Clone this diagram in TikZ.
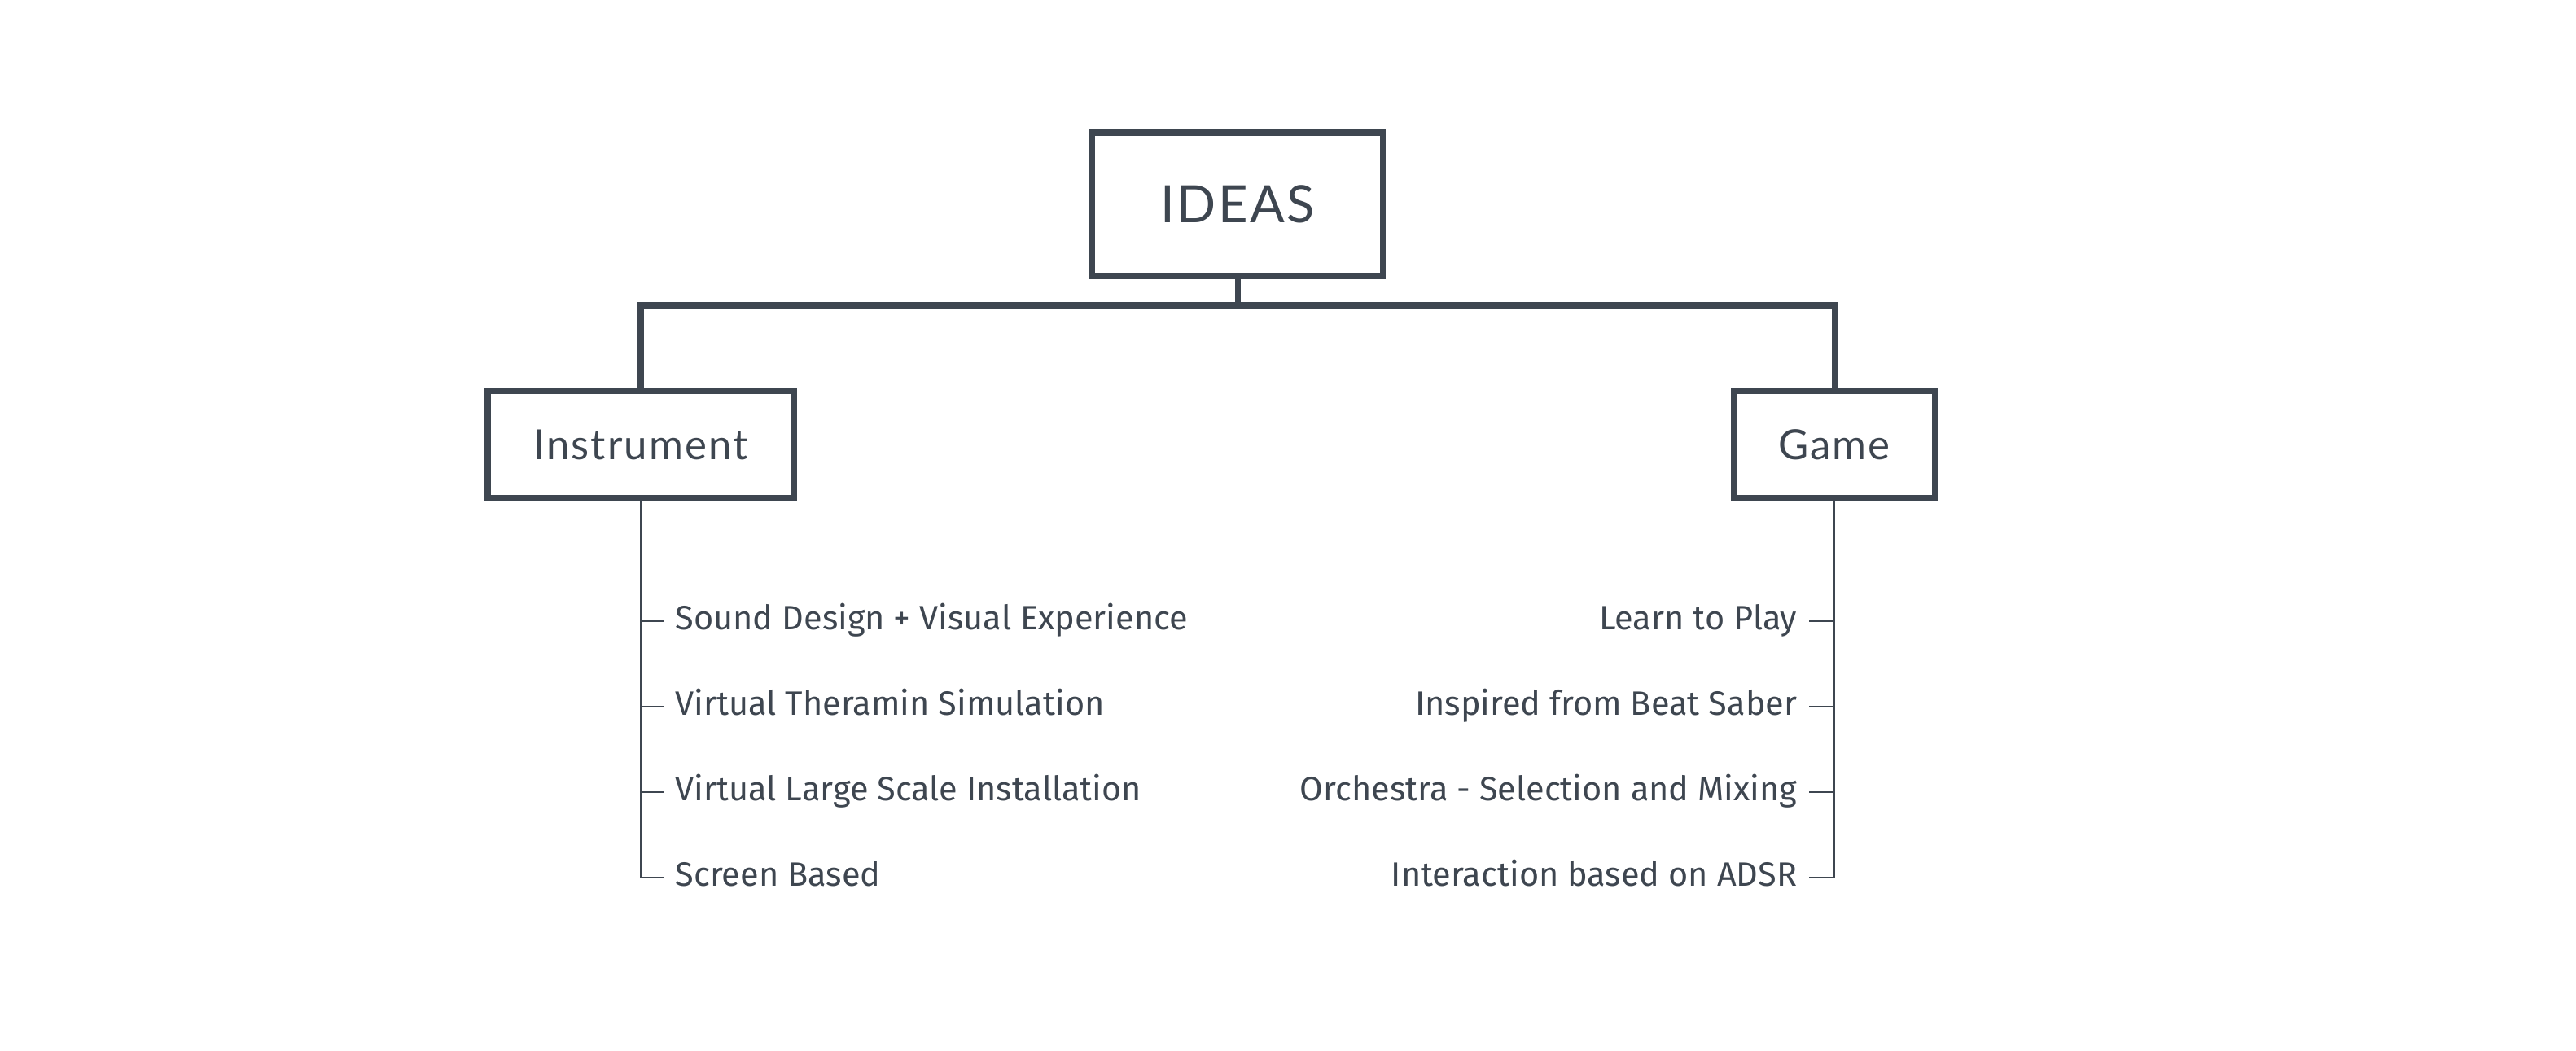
\documentclass[tikz,border=0pt]{standalone}
\usepackage{fontspec}
\setmainfont{Fira Sans}
\newfontfamily\boxfont[LetterSpace=4]{Lato}
\usepackage{xcolor}
\usetikzlibrary{positioning}
\definecolor{slate}{HTML}{3E4650}

\begin{document}
\begin{tikzpicture}[
    ideabox/.style={draw=slate, line width=2pt, text=slate, font=\boxfont, minimum height=1.31cm},
    itemleft/.style={anchor=west, inner xsep=0.14cm, inner ysep=0pt, text=slate, font=\fontsize{11.8}{14}\selectfont, text height=0.7em, text depth=0.1em},
    itemright/.style={itemleft, anchor=east},
    bus/.style={draw=slate, line width=2pt},
    twig/.style={draw=slate, line width=0.7pt}]

        \useasboundingbox (0,0) rectangle (31.64,-12.90);

        \node[ideabox, minimum width=3.57cm, minimum height=1.76cm, font=\boxfont\fontsize{18}{20}\selectfont] (ideas) at (15.20,-2.51) {IDEAS};
        \node[ideabox, minimum width=3.76cm, font=\boxfont\fontsize{14.5}{16}\selectfont] (instr) at (7.87,-5.46) {Instrument};
        \node[ideabox, minimum width=2.47cm, font=\boxfont\fontsize{14.5}{16}\selectfont] (game) at (22.53,-5.46) {Game};

        \coordinate (bar) at (15.20,-3.75);

        % instrument ideas
        \node[itemleft] (i1) at (8.15,-7.63) {Sound Design + Visual Experience};
        \node[itemleft] (i2) at (8.15,-8.68) {Virtual Theramin Simulation};
        \node[itemleft] (i3) at (8.15,-9.73) {Virtual Large Scale Installation};
        \node[itemleft] (i4) at (8.15,-10.78) {Screen Based};

        % game ideas
        \node[itemright] (g1) at (22.22,-7.63) {Learn to Play};
        \node[itemright] (g2) at (22.22,-8.68) {Inspired from Beat Saber};
        \node[itemright] (g3) at (22.22,-9.73) {Orchestra - Selection and Mixing};
        \node[itemright] (g4) at (22.22,-10.78) {Interaction based on ADSR};

        \draw[bus] (ideas.south) -- (bar);
        \draw[bus] (instr.north) |- (bar) -| (game.north);

        \draw[twig] (instr.south) |- (i4.west);
        \draw[twig] (i1.west) -- (i1.west -| instr.south);
        \draw[twig] (i2.west) -- (i2.west -| instr.south);
        \draw[twig] (i3.west) -- (i3.west -| instr.south);

        \draw[twig] (game.south) |- (g4.east);
        \draw[twig] (g1.east) -- (g1.east -| game.south);
        \draw[twig] (g2.east) -- (g2.east -| game.south);
        \draw[twig] (g3.east) -- (g3.east -| game.south);

    \end{tikzpicture}
\end{document}
